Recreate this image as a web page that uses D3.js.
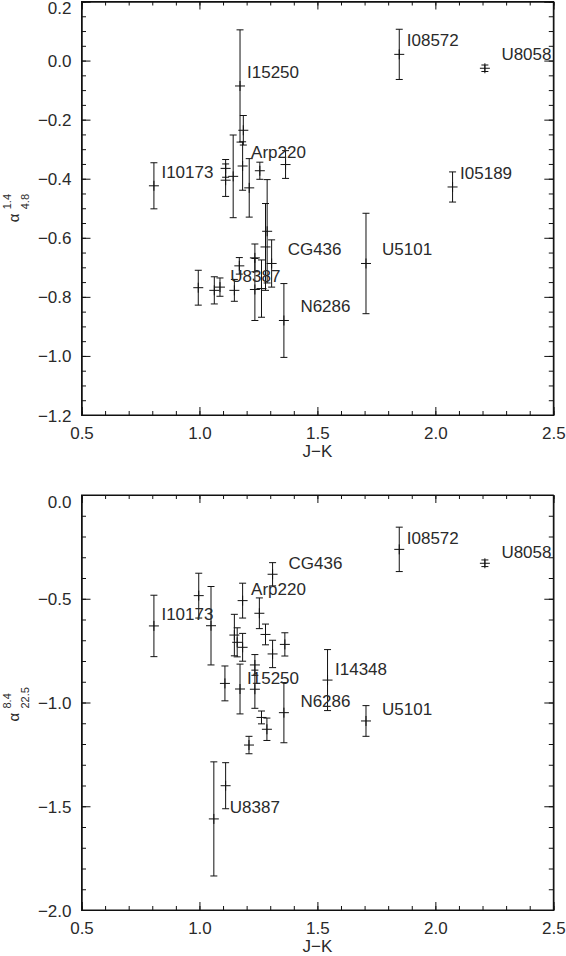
<!DOCTYPE html>
<html>
<head>
<meta charset="utf-8">
<script src="https://cdn.jsdelivr.net/npm/d3@7"></script>
<style>
  html, body { margin: 0; padding: 0; background: #fff; }
  svg text { font-family: "Liberation Sans", Arial, sans-serif; fill: #2a2a2a; }
</style>
</head>
<body>
<svg id="chart" width="566" height="956"></svg>
<script>
// ---------------- data ----------------
// Upper panel: alpha(1.4 GHz, 4.8 GHz) vs J-K
const topNames  = ["I10173","I15250","","Arp220","","","","","","","","","","U8387","","","","","","","CG436","N6286","U5101","I08572","U8058","I05189"];
const topJK     = [0.807,1.172,1.186,1.183,1.111,1.111,1.143,1.211,1.256,1.365,1.287,1.280,0.995,1.063,1.087,1.148,1.169,1.235,1.235,1.263,1.306,1.358,1.706,1.847,2.210,2.073];
const topAlpha  = [-0.424,-0.086,-0.236,-0.357,-0.365,-0.405,-0.392,-0.431,-0.373,-0.352,-0.578,-0.631,-0.769,-0.778,-0.767,-0.778,-0.695,-0.668,-0.775,-0.772,-0.687,-0.880,-0.687,0.021,-0.026,-0.428];
const topErr    = [0.078,0.190,0.050,0.082,0.030,0.055,0.140,0.099,0.029,0.047,0.175,0.147,0.059,0.046,0.031,0.037,0.028,0.047,0.105,0.097,0.080,0.125,0.170,0.085,0.011,0.051];

// Lower panel: alpha(8.4 GHz, 22.5 GHz) vs J-K
const botNames  = ["I10173","","","Arp220","CG436","","","","","","","","","I15250","","","N6286","","","","","U8387","I14348","U5101","I08572","U8058"];
const botJK     = [0.807,0.997,1.049,1.183,1.310,1.254,1.280,1.148,1.160,1.183,1.310,1.362,1.108,1.172,1.235,1.235,1.358,1.263,1.286,1.210,1.111,1.061,1.543,1.706,1.847,2.210];
const botAlpha  = [-0.631,-0.485,-0.630,-0.509,-0.382,-0.570,-0.672,-0.675,-0.710,-0.734,-0.766,-0.720,-0.908,-0.935,-0.819,-0.936,-1.049,-1.072,-1.129,-1.205,-1.401,-1.561,-0.892,-1.089,-0.262,-0.329];
const botErr    = [0.148,0.108,0.189,0.084,0.056,0.074,0.050,0.100,0.070,0.067,0.066,0.056,0.084,0.120,0.050,0.092,0.145,0.031,0.054,0.042,0.111,0.275,0.147,0.074,0.107,0.016];

// tick values
const xMajor = [0.5, 1.0, 1.5, 2.0, 2.5];
const topYMajor = [0.2, 0.0, -0.2, -0.4, -0.6, -0.8, -1.0, -1.2];
const botYMajor = [0.0, -0.5, -1.0, -1.5, -2.0];

// ---------------- layout ----------------
const svg = d3.select("#chart");
const X0 = 81.5, X1 = 553.3;
const labelDx = {I10173: 7.5, I15250: 7, Arp220: 8.5, CG436: 16, U8387: 16, N6286: 16.5, U5101: 16, I08572: 7.5, U8058: 16.5, I05189: 7.5, I14348: 7.5};
const FS = 17;

function minorTicks(lo, hi, step) {
  const out = [];
  const n = Math.round((hi - lo) / step);
  for (let i = 0; i <= n; i++) out.push(+(lo + i * step).toFixed(4));
  return out;
}

function panel(cfg) {
  const x = d3.scaleLinear().domain([0.5, 2.5]).range([X0, X1]);
  const y = d3.scaleLinear().domain(cfg.yDomain).range([cfg.yBottom, cfg.yTop]);
  const g = svg.append("g");
  const fmt = d3.format(".1f");

  // minor ticks (all four sides)
  const xMinor = minorTicks(0.5, 2.5, 0.1);
  const yMinor = minorTicks(cfg.yDomain[0], cfg.yDomain[1], cfg.yMinorStep);
  const mk = (axis, tx, ty, vals, size) => g.append("g")
      .attr("transform", `translate(${tx},${ty})`)
      .call(axis.tickValues(vals).tickSize(size).tickFormat(""));
  mk(d3.axisBottom(x), 0, cfg.yBottom, xMinor, -4);
  mk(d3.axisTop(x), 0, cfg.yTop, xMinor, -4);
  mk(d3.axisLeft(y), X0, 0, yMinor, -4.5);
  mk(d3.axisRight(y), X1, 0, yMinor, -4.5);

  // major ticks with labels
  const bx = g.append("g").attr("transform", `translate(0,${cfg.yBottom})`)
    .call(d3.axisBottom(x).tickValues(xMajor).tickSize(-8).tickPadding(0).tickFormat(fmt));
  bx.selectAll("text").attr("dy", null).attr("y", 24).style("font-size", FS + "px");
  mk(d3.axisTop(x), 0, cfg.yTop, xMajor, -8);
  const ly = g.append("g").attr("transform", `translate(${X0},0)`)
    .call(d3.axisLeft(y).tickValues(cfg.yMajor).tickSize(-9).tickPadding(10).tickFormat(fmt));
  ly.selectAll("text").attr("dy", null).attr("y", (d) => (d === cfg.yDomain[1] ? 6 : 0) + 6)
    .style("font-size", FS + "px");
  mk(d3.axisRight(y), X1, 0, cfg.yMajor, -9);

  g.selectAll(".domain").attr("stroke", "#111");
  g.selectAll(".tick line").attr("stroke", "#111");
  g.selectAll(".tick text").attr("fill", "#2a2a2a").attr("font-family", "Liberation Sans, Arial, sans-serif");

  // frame
  g.append("rect").attr("x", X0).attr("y", cfg.yTop)
    .attr("width", X1 - X0).attr("height", cfg.yBottom - cfg.yTop)
    .attr("fill", "none").attr("stroke", "#111").attr("stroke-width", 1);

  // x title
  g.append("text").attr("x", (X0 + X1) / 2).attr("y", cfg.yBottom + 42)
    .attr("text-anchor", "middle").style("font-size", FS + "px").text("J\u2212K");

  // y title: alpha with super/subscript, rotated
  const cy = (cfg.yTop + cfg.yBottom) / 2;
  const yt = g.append("g").attr("transform", `translate(0,${cy}) rotate(-90)`);
  yt.append("text").attr("x", cfg.aX).attr("y", 19).style("font-size", "15px").text("\u03b1");
  yt.append("text").attr("x", cfg.aX + 13).attr("y", 10.5).style("font-size", "11px").text(cfg.sup);
  yt.append("text").attr("x", cfg.aX + 13).attr("y", 28.5).style("font-size", "11px").text(cfg.sub);

  // data: error bars + crosses
  const pts = cfg.jk.map((v, i) => ({jk: v, a: cfg.alpha[i], e: cfg.err[i], name: cfg.names[i]}));
  const dg = g.append("g").attr("stroke", "#111").attr("stroke-width", 1).attr("fill", "none");
  const p = dg.selectAll("g.pt").data(pts).join("g").attr("class", "pt");
  p.append("line")
    .attr("x1", (d) => x(d.jk)).attr("x2", (d) => x(d.jk))
    .attr("y1", (d) => y(d.a + d.e)).attr("y2", (d) => y(d.a - d.e));
  p.append("line")
    .attr("x1", (d) => x(d.jk) - 3.5).attr("x2", (d) => x(d.jk) + 3.5)
    .attr("y1", (d) => y(d.a + d.e)).attr("y2", (d) => y(d.a + d.e));
  p.append("line")
    .attr("x1", (d) => x(d.jk) - 3.5).attr("x2", (d) => x(d.jk) + 3.5)
    .attr("y1", (d) => y(d.a - d.e)).attr("y2", (d) => y(d.a - d.e));
  p.append("line")
    .attr("x1", (d) => x(d.jk) - 5).attr("x2", (d) => x(d.jk) + 5)
    .attr("y1", (d) => y(d.a)).attr("y2", (d) => y(d.a));
  p.append("line")
    .attr("x1", (d) => x(d.jk)).attr("x2", (d) => x(d.jk))
    .attr("y1", (d) => y(d.a) - 5).attr("y2", (d) => y(d.a) + 5);

  // labels
  g.selectAll("text.lbl").data(pts.filter((d) => d.name)).join("text").attr("class", "lbl")
    .attr("x", (d) => x(d.jk) + (labelDx[d.name] || 8))
    .attr("y", (d) => y(d.a) + cfg.labelDy + 6)
    .style("font-size", FS + "px")
    .text((d) => d.name);
}

panel({
  yDomain: [-1.2, 0.2], yTop: 1.5, yBottom: 415, yMajor: topYMajor, yMinorStep: 0.05,
  jk: topJK, alpha: topAlpha, err: topErr, names: topNames,
  sup: "1.4", sub: "4.8", aX: -14, labelDy: -14
});
panel({
  yDomain: [-2.0, 0.0], yTop: 495, yBottom: 910, yMajor: botYMajor, yMinorStep: 0.1,
  jk: botJK, alpha: botAlpha, err: botErr, names: botNames,
  sup: "8.4", sub: "22.5", aX: -19, labelDy: -11.5
});
</script>
</body>
</html>
